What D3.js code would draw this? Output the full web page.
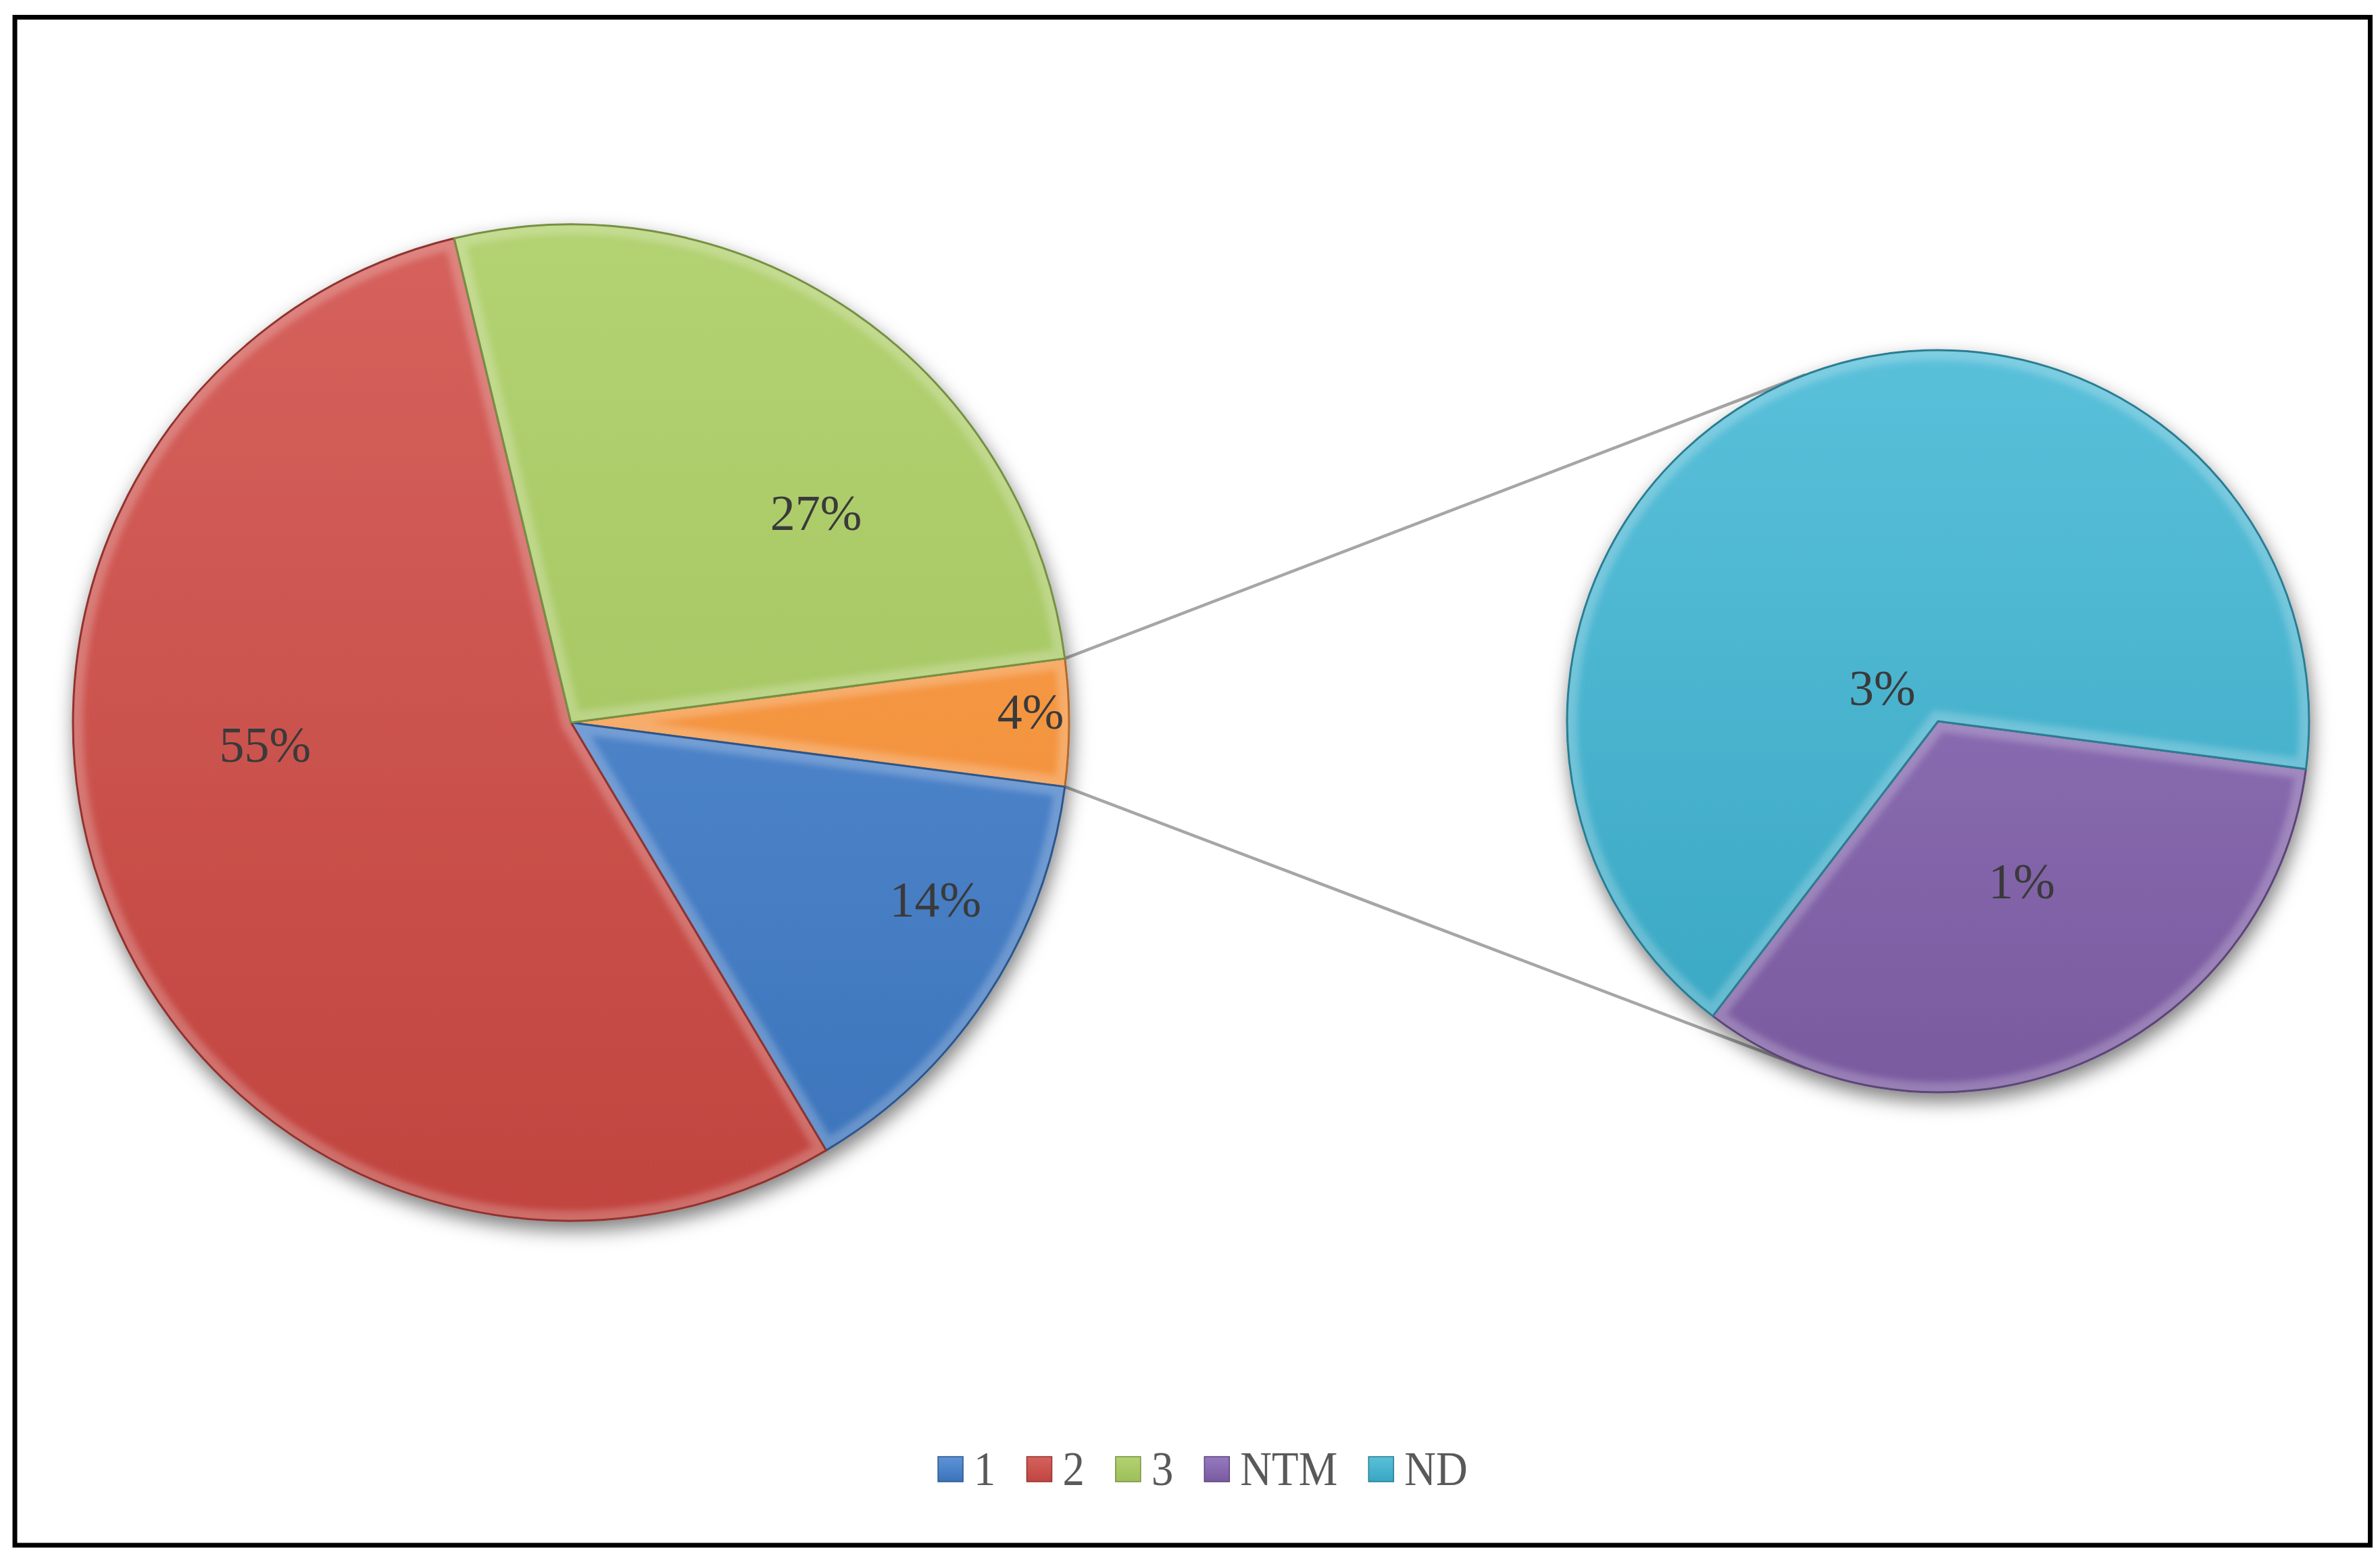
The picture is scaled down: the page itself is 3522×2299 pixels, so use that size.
<!DOCTYPE html>
<html>
<head>
<meta charset="utf-8">
<script src="https://cdn.jsdelivr.net/npm/d3@7"></script>
<style>
  html, body { margin: 0; padding: 0; background: #ffffff; }
  svg { display: block; }
</style>
</head>
<body>
<svg id="chart" width="3522" height="2299"></svg>
<script>
// ---------------- DATA ----------------
const categories = ["1", "2", "3", "NTM", "ND"];
const counts = [21, 80, 39, 2, 4];
const primaryCategories = ["1", "2", "3"];
const secondaryCategories = ["NTM", "ND"];
const otherName = "Other";
const legendLabels = ["1", "2", "3", "NTM", "ND"];

// ---------------- LAYOUT / STYLE ----------------
const W = 3522, H = 2299;
const mainPie = { cx: 845, cy: 1069, r: 737 };
const subPie = { cx: 2868, cy: 1067, r: 549 };
const fontFamily = "'Liberation Serif', 'Times New Roman', serif";

const colorTop = {
  "1": "#5e93d7", "2": "#d6625d", "3": "#b3d272",
  "NTM": "#957ac0", "ND": "#5ac0da", "Other": "#f9a14f"
};
const colorBottom = {
  "1": "#3b73ba", "2": "#c1443f", "3": "#9dbf58",
  "NTM": "#7a5a9f", "ND": "#38a6c2", "Other": "#ef8933"
};
// label placement: angular nudge (deg) from slice mid-angle and radius fraction
const labelPlace = {
  "1": { da: -7.3, rf: 0.814 },
  "2": { da: 17.9, rf: 0.616 },
  "3": { da: 15.0, rf: 0.647 },
  "Other": { da: -1.3, rf: 0.923 },
  "NTM": { da: -4.9, rf: 0.488 },
  "ND": { da: -36.8, rf: 0.175 }
};

const svg = d3.select("#chart");
const defs = svg.append("defs");

// shadow filter
const shadow = defs.append("filter").attr("id", "shadow")
  .attr("x", "-20%").attr("y", "-20%").attr("width", "140%").attr("height", "140%");
shadow.append("feDropShadow")
  .attr("dx", 3).attr("dy", 13).attr("stdDeviation", 14)
  .attr("flood-color", "#000").attr("flood-opacity", 0.5);

// soft blur for bevel rims
const soft = defs.append("filter").attr("id", "soft")
  .attr("x", "-10%").attr("y", "-10%").attr("width", "120%").attr("height", "120%");
soft.append("feGaussianBlur").attr("stdDeviation", 5);

function makeGradient(id, key, y0, y1) {
  const g = defs.append("linearGradient").attr("id", id)
    .attr("gradientUnits", "userSpaceOnUse")
    .attr("x1", 0).attr("y1", y0).attr("x2", 0).attr("y2", y1);
  g.append("stop").attr("offset", "0%").attr("stop-color", colorTop[key]);
  g.append("stop").attr("offset", "100%").attr("stop-color", colorBottom[key]);
}

// background + frame
svg.append("rect").attr("x", 0).attr("y", 0).attr("width", W).attr("height", H).attr("fill", "#fff");
svg.append("rect")
  .attr("x", 22).attr("y", 25.5).attr("width", 3485.5).attr("height", 2260.5)
  .attr("fill", "none").attr("stroke", "#000").attr("stroke-width", 7);

// ---------------- DATA PREP ----------------
const valueOf = Object.fromEntries(categories.map((c, i) => [c, counts[i]]));
const total = d3.sum(counts);
const otherValue = d3.sum(secondaryCategories, c => valueOf[c]);
const primaryData = [{ key: otherName, value: otherValue }]
  .concat(primaryCategories.map(c => ({ key: c, value: valueOf[c] })));
const secondaryData = secondaryCategories.map(c => ({ key: c, value: valueOf[c] }));

const pct = d3.format(".0%");

// Other slice is centred on the right (3 o'clock)
const otherSpan = 2 * Math.PI * otherValue / total;
const mainStart = Math.PI / 2 - otherSpan / 2;
const pieMain = d3.pie().sort(null).value(d => d.value)
  .startAngle(mainStart).endAngle(mainStart + 2 * Math.PI);
const mainArcs = pieMain(primaryData);

const subStart = mainStart + otherSpan;
const pieSub = d3.pie().sort(null).value(d => d.value)
  .startAngle(subStart).endAngle(subStart + 2 * Math.PI);
const subArcs = pieSub(secondaryData);

// ---------------- CONNECTOR LINES ----------------
const otherArc = mainArcs[0];
function polar(p, ang, r) {
  return [p.cx + r * Math.sin(ang), p.cy - r * Math.cos(ang)];
}
function tangentPoint(P, C, R, sign) {
  const dx = C.cx - P[0], dy = C.cy - P[1];
  const d = Math.hypot(dx, dy);
  const phi = Math.atan2(dy, dx);
  const a = Math.asin(R / d);
  const L = Math.sqrt(d * d - R * R);
  const ang = phi + sign * a;
  return [P[0] + L * Math.cos(ang), P[1] + L * Math.sin(ang)];
}
const pTop = polar(mainPie, otherArc.startAngle, mainPie.r);
const pBot = polar(mainPie, otherArc.endAngle, mainPie.r);
const tTop = tangentPoint(pTop, subPie, subPie.r, -1);
const tBot = tangentPoint(pBot, subPie, subPie.r, +1);
const connectors = [[pTop, tTop], [pBot, tBot]];
svg.append("g").attr("class", "connectors")
  .selectAll("line").data(connectors).join("line")
  .attr("x1", d => d[0][0]).attr("y1", d => d[0][1])
  .attr("x2", d => d[1][0]).attr("y2", d => d[1][1])
  .attr("stroke", "#a6a6a6").attr("stroke-width", 4.5);

// ---------------- PIES ----------------
function drawPie(arcs, p, prefix) {
  arcs.forEach(a => makeGradient(prefix + "-" + a.data.key, a.data.key, -p.r, p.r));
  const arcGen = d3.arc().innerRadius(0).outerRadius(p.r);
  const g = svg.append("g")
    .attr("transform", `translate(${p.cx},${p.cy})`)
    .attr("filter", "url(#shadow)");
  arcs.forEach(a => {
    defs.append("clipPath").attr("id", `clip-${prefix}-${a.data.key}`)
      .append("path").attr("d", arcGen(a));
  });
  const slices = g.selectAll("g.slice").data(arcs).join("g").attr("class", "slice");
  slices.append("path")
    .attr("d", arcGen)
    .attr("fill", d => `url(#${prefix}-${d.data.key})`);
  // light inner bevel rim
  slices.append("g")
    .attr("clip-path", d => `url(#clip-${prefix}-${d.data.key})`)
    .append("path")
    .attr("d", arcGen)
    .attr("fill", "none")
    .attr("stroke", "#ffffff").attr("stroke-opacity", 0.22)
    .attr("stroke-width", 30)
    .attr("filter", "url(#soft)");
  // dark edge line
  slices.append("path")
    .attr("d", arcGen)
    .attr("fill", "none")
    .attr("stroke", d => d3.color(colorBottom[d.data.key]).darker(0.8))
    .attr("stroke-width", 3)
    .attr("stroke-linejoin", "round");
  return g;
}
drawPie(mainArcs, mainPie, "m");
drawPie(subArcs, subPie, "s");

// ---------------- LABELS ----------------
const labelSize = 74;
function labelPos(d, p) {
  const lp = labelPlace[d.data.key];
  const mid = (d.startAngle + d.endAngle) / 2 + lp.da * Math.PI / 180;
  return polar(p, mid, lp.rf * p.r);
}
function drawLabels(arcs, p) {
  svg.append("g").selectAll("text").data(arcs).join("text")
    .attr("x", d => labelPos(d, p)[0])
    .attr("y", d => labelPos(d, p)[1] + labelSize * 0.33)
    .attr("text-anchor", "middle")
    .attr("font-family", fontFamily)
    .attr("font-size", labelSize)
    .attr("fill", "#3a3a3a")
    .text(d => pct(d.value / total));
}
drawLabels(mainArcs, mainPie);
drawLabels(subArcs, subPie);

// ---------------- LEGEND ----------------
const legendSize = 72;
const legendStretch = 0.9;
const sq = 37;
const legendG = svg.append("g").attr("class", "legend");
legendLabels.forEach(k => makeGradient("lg-" + k, k, 0, sq));
const items = legendLabels.map(k => {
  const it = legendG.append("g");
  it.append("rect").attr("x", 0).attr("y", 0).attr("width", sq).attr("height", sq)
    .attr("fill", `url(#lg-${k})`)
    .attr("stroke", d3.color(colorBottom[k]).darker(0.8)).attr("stroke-width", 1.5);
  const t = it.append("text")
    .attr("transform", `translate(${sq + 16},42) scale(${legendStretch},1)`)
    .attr("font-family", fontFamily).attr("font-size", legendSize)
    .attr("fill", "#595959").text(k);
  const tw = t.node().getComputedTextLength() * legendStretch;
  return { g: it, w: sq + 16 + tw };
});
const gapItems = 46;
const totalW = d3.sum(items, d => d.w) + gapItems * (items.length - 1);
let startX = 1780 - totalW / 2;
items.forEach(it => {
  it.g.attr("transform", `translate(${startX},2155)`);
  startX += it.w + gapItems;
});
</script>
</body>
</html>
